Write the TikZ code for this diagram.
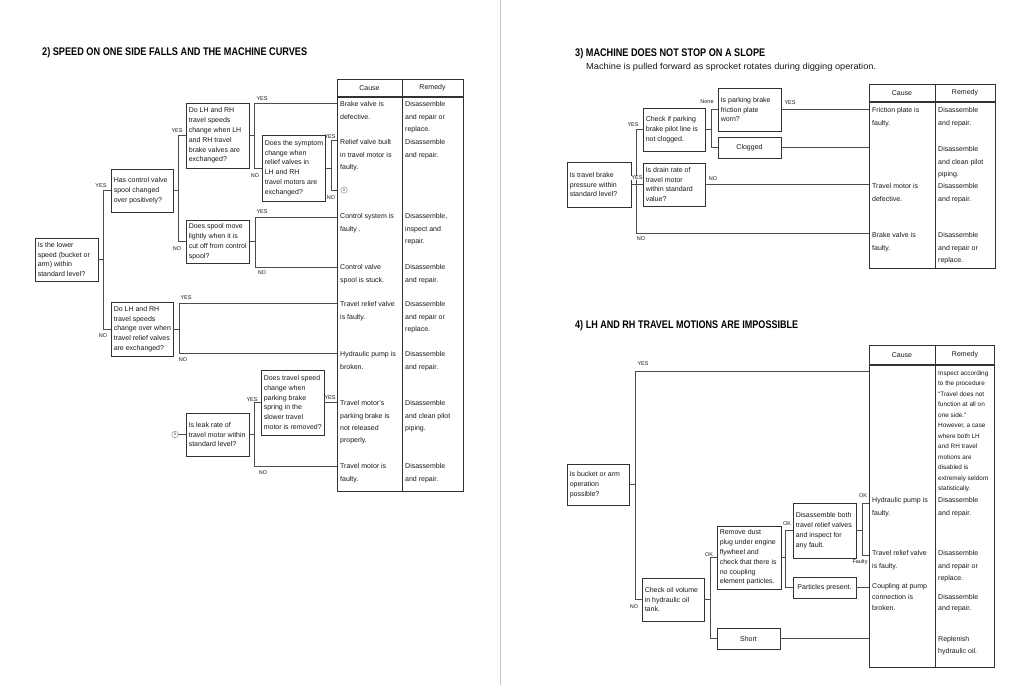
\documentclass[tikz,border=0pt]{standalone}
\usepackage{fontspec}
\setmainfont{Liberation Sans}
\usetikzlibrary{fit,calc}
\newcommand\qbox[6]{%
  \node[box, fit={(#2,#3) (#4,#5)}] (#1) {};
  \node[btxt] (#1t) at ([xshift=3pt]#1.west) {#6};}
\newcommand\cbox[6]{%
  \node[box, fit={(#2,#3) (#4,#5)}] (#1) {};
  \node[btxt, anchor=center] (#1t) at (#1.center) {#6};}
\newcommand\tcell[4]{\node[cell] (#1) at (#2,#3-2.6) {#4};}
\begin{document}
\begin{tikzpicture}[x=1pt,y=-1pt,
  box/.style={draw=black!80, line width=0.85pt, inner sep=0pt},
  btxt/.style={anchor=west, align=left, inner sep=0pt, text=black!90, font=\fontsize{7}{9.8}\selectfont},
  cell/.style={anchor=north west, align=left, inner sep=0pt, text=black!90, font=\fontsize{7}{12.4}\selectfont},
  head/.style={inner sep=0pt, text=black!90, font=\fontsize{7}{9}\selectfont},
  lbl/.style={inner sep=0pt, text=black!90, font=\fontsize{5.5}{6}\selectfont},
  conn/.style={draw=black!70, line width=0.85pt},
  tbl/.style={draw=black!80, line width=0.85pt, inner sep=0pt},
  ttl/.style={anchor=west, inner sep=0pt, text=black},
  circ/.style={circle, draw=black!50, line width=0.4pt, inner sep=0pt, minimum size=6.5pt, text=black!55, font=\fontsize{5}{5}\selectfont},
]
\useasboundingbox[fill=white] (0,0) rectangle (1016,685);
\draw[black!22, line width=0.6pt] (500,0) -- (500,685);

% ---------- titles ----------
\node[ttl] (title2) at (42,53) {\resizebox{265pt}{8pt}{\bfseries 2) SPEED ON ONE SIDE FALLS AND THE MACHINE CURVES}};
\node[ttl] (title3) at (575,54) {\resizebox{190pt}{8pt}{\bfseries 3) MACHINE DOES NOT STOP ON A SLOPE}};
\node[ttl, text=black!90] (sub3) at (586,67.5) {\resizebox{290pt}{6.3pt}{Machine is pulled forward as sprocket rotates during digging operation.}};
\node[ttl] (title4) at (575,326) {\resizebox{223pt}{8pt}{\bfseries 4) LH AND RH TRAVEL MOTIONS ARE IMPOSSIBLE}};

% ---------- table 2 ----------
\node[tbl, fit={(337,79) (463,491)}] (T2) {};
\draw[tbl, line width=1.4pt] (337,97) -- (463,97);
\draw[tbl] (402,79) -- (402,491);
\node[head] (h2c) at (369.5,88) {Cause};
\node[head] (h2r) at (432.5,88) {Remedy};
\tcell{c2a}{340}{104}{Brake valve is\\defective.}
\tcell{c2b}{340}{142}{Relief valve built\\in travel motor is\\faulty.}
\node[circ] (c2c) at (344,190) {a};
\tcell{c2d}{340}{216}{Control system is\\faulty .}
\tcell{c2e}{340}{267}{Control valve\\spool is stuck.}
\tcell{c2f}{340}{304}{Travel relief valve\\is faulty.}
\tcell{c2g}{340}{354}{Hydraulic pump is\\broken.}
\tcell{c2h}{340}{403}{Travel motor's\\parking brake is\\not released\\properly.}
\tcell{c2i}{340}{466}{Travel motor is\\faulty.}
\tcell{r2a}{405}{104}{Disassemble\\and repair or\\replace.}
\tcell{r2b}{405}{142}{Disassemble\\and repair.}
\tcell{r2d}{405}{216}{Disassemble,\\inspect and\\repair.}
\tcell{r2e}{405}{267}{Disassemble\\and repair.}
\tcell{r2f}{405}{304}{Disassemble\\and repair or\\replace.}
\tcell{r2g}{405}{354}{Disassemble\\and repair.}
\tcell{r2h}{405}{403}{Disassemble\\and clean pilot\\piping.}
\tcell{r2i}{405}{466}{Disassemble\\and repair.}

% ---------- boxes 2 ----------
\qbox{A}{35}{238}{98}{281}{Is the lower\\speed (bucket or\\arm) within\\standard level?}
\qbox{B}{111}{169}{173}{212}{Has control valve\\spool changed\\over positively?}
\qbox{C}{186}{103}{249}{168}{Do LH and RH\\travel speeds\\change when LH\\and RH travel\\brake valves are\\exchanged?}
\qbox{D}{262}{135}{325}{201}{Does the symptom\\change when\\relief valves in\\LH and RH\\travel motors are\\exchanged?}
\qbox{E}{186}{220}{249}{263}{Does spool move\\lightly when it is\\cut off from control\\spool?}
\qbox{F}{111}{302}{173}{356}{Do LH and RH\\travel speeds\\change over when\\travel relief valves\\are exchanged?}
\qbox{G}{186}{413}{249}{456}{Is leak rate of\\travel motor within\\standard level?}
\qbox{H}{261}{370}{324}{435}{Does travel speed\\change when\\parking brake\\spring in the\\slower travel\\motor is removed?}
\node[circ] (aref) at (175,434.5) {a};

\coordinate (t2a) at (337,103);
\coordinate (t2b) at (337,140);
\coordinate (t2c) at (337,190);
\coordinate (t2d) at (337,217);
\coordinate (t2e) at (337,267);
\coordinate (t2f) at (337,303);
\coordinate (t2g) at (337,353);
\coordinate (t2i) at (337,466);

\draw[conn] (A.east) -- ++(6,0);
\draw[conn] (B.west) -- ++(-7,0) |- (F.west);
\draw[conn] (B.east) -- ++(6,0);
\draw[conn] (C.west) -- ++(-7,0) |- (E.west);
\draw[conn] (C.east) -- ++(6,0);
\draw[conn] (D.west) -- ++(-7,0) |- (t2a);
\draw[conn] (D.east) -- ++(6,0);
\draw[conn] (t2b) -| ([xshift=6pt]D.east) |- (t2c);
\draw[conn] (E.east) -- ++(6,0);
\draw[conn] (t2d) -| ([xshift=6pt]E.east) |- (t2e);
\draw[conn] (F.east) -- ++(6,0);
\draw[conn] (t2f) -| ([xshift=6pt]F.east) |- (t2g);
\draw[conn] (G.east) -- ++(6,0);
\draw[conn] (H.west) -- ++(-6,0) |- (t2i);
\draw[conn] (H.east) -- (H.east -| T2.west);
\draw[conn] (aref) -- (G.west);

\node[lbl] (l1) at (101,186) {YES};
\node[lbl] (l2) at (103,336) {NO};
\node[lbl] (l3) at (177,131) {YES};
\node[lbl] (l4) at (177,249) {NO};
\node[lbl] (l5) at (262,99) {YES};
\node[lbl] (l6) at (255,176) {NO};
\node[lbl] (l7) at (330,137) {YES};
\node[lbl] (l8) at (331,198) {NO};
\node[lbl] (l9) at (262,212) {YES};
\node[lbl] (l10) at (262,273) {NO};
\node[lbl] (l11) at (186,298) {YES};
\node[lbl] (l12) at (183,360) {NO};
\node[lbl] (l13) at (252,400) {YES};
\node[lbl] (l14) at (263,473) {NO};
\node[lbl] (l15) at (330,398) {YES};

% ---------- table 3 ----------
\node[tbl, fit={(869,84) (995,268)}] (T3) {};
\draw[tbl, line width=1.4pt] (869,102) -- (995,102);
\draw[tbl] (935,84) -- (935,268);
\node[head] (h3c) at (902,93) {Cause};
\node[head] (h3r) at (965,93) {Remedy};
\tcell{c3a}{872}{110}{Friction plate is\\faulty.}
\tcell{c3b}{872}{186}{Travel motor is\\defective.}
\tcell{c3c}{872}{235}{Brake valve is\\faulty.}
\tcell{r3a}{938}{110}{Disassemble\\and repair.}
\tcell{r3b}{938}{149}{Disassemble\\and clean pilot\\piping.}
\tcell{r3c}{938}{186}{Disassemble\\and repair.}
\tcell{r3d}{938}{235}{Disassemble\\and repair or\\replace.}

% ---------- boxes 3 ----------
\qbox{P}{567}{162}{631}{207}{Is travel brake\\pressure within\\standard level?}
\qbox{Q}{643}{108}{705}{151}{Check if parking\\brake pilot line is\\not clogged.}
\qbox{R}{643}{163}{705}{206}{Is drain rate of\\travel motor\\within standard\\value?}
\qbox{S}{718}{88}{781}{131}{Is parking brake\\friction plate\\worn?}
\cbox{Tc}{718}{137}{781}{158}{Clogged}
\coordinate (t3d) at (869,233);

\draw[conn] (P.east) -- (P.east -| R.west);
\draw[conn] (Q.west) -- ++(-6,0) |- (t3d);
\draw[conn] (Q.east) -- ++(7,0);
\draw[conn] (S.west) -- ++(-6,0) |- (Tc.west);
\draw[conn] (S.east) -- (S.east -| T3.west);
\draw[conn] (Tc.east) -- (Tc.east -| T3.west);
\draw[conn] (R.east) -- (R.east -| T3.west);

\node[lbl] (m1) at (633,125) {YES};
\node[lbl, fill=white, inner sep=0.4pt] (m2) at (637,178) {YES};
\node[lbl] (m3) at (707,102) {None};
\node[lbl] (m4) at (790,103) {YES};
\node[lbl] (m5) at (713,179) {NO};
\node[lbl] (m6) at (641,239) {NO};

% ---------- table 4 ----------
\node[tbl, fit={(869,345) (994,667)}] (T4) {};
\draw[tbl, line width=1.4pt] (869,365) -- (994,365);
\draw[tbl] (935,345) -- (935,667);
\node[head] (h4c) at (902,355) {Cause};
\node[head] (h4r) at (965,355) {Remedy};
\node[cell, font=\fontsize{6.4}{10.5}\selectfont] (r4a) at (938,373-2.4) {Inspect according\\to the procedure\\``Travel does not\\function at all on\\one side.''\\However, a case\\where both LH\\and RH travel\\motions are\\disabled is\\extremely seldom\\statistically.};
\tcell{c4a}{872}{500}{Hydraulic pump is\\faulty.}
\tcell{r4b}{938}{500}{Disassemble\\and repair.}
\tcell{c4b}{872}{553}{Travel relief valve\\is faulty.}
\tcell{r4c}{938}{553}{Disassemble\\and repair or\\replace.}
\node[cell, font=\fontsize{7}{11}\selectfont] (c4c) at (872,586-2.6) {Coupling at pump\\connection is\\broken.};
\node[cell, font=\fontsize{7}{11}\selectfont] (r4d) at (938,597-2.6) {Disassemble\\and repair.};
\node[cell, font=\fontsize{7}{12}\selectfont] (r4e) at (938,639-2.6) {Replenish\\hydraulic oil.};

% ---------- boxes 4 ----------
\qbox{U}{567}{464}{629}{505}{Is bucket or arm\\operation\\possible?}
\qbox{V}{642}{578}{704}{621}{Check oil volume\\in hydraulic oil\\tank.}
\qbox{W}{717}{526}{781}{589}{Remove dust\\plug under engine\\flywheel and\\check that there is\\no coupling\\element particles.}
\cbox{X}{717}{628}{780}{649}{Short}
\qbox{Y}{793}{503}{856}{558}{Disassemble both\\travel relief valves\\and inspect for\\any fault.}
\cbox{Z}{793}{577}{856}{598}{Particles present.}
\coordinate (t4a) at (869,371);
\coordinate (t4b) at (869,503);
\coordinate (t4c) at (869,555);

\draw[conn] (U.east) -- ++(7,0);
\draw[conn] (t4a) -| ([xshift=-6pt]V.west) -- (V.west);
\draw[conn] (V.east) -- ++(7,0);
\draw[conn] (W.west) -- ++(-6,0) |- (X.west);
\draw[conn] (X.east) -- (X.east -| T4.west);
\draw[conn] (W.east) -- ++(5,0);
\draw[conn] (Y.west) -- ++(-7,0) |- (Z.west);
\draw[conn] (Z.east) -- (Z.east -| T4.west);
\draw[conn] (Y.east) -- ++(6,0);
\draw[conn] (t4b) -| ([xshift=6pt]Y.east) |- (t4c);

\node[lbl] (n1) at (643,364) {YES};
\node[lbl] (n2) at (634,607) {NO};
\node[lbl] (n3) at (709,555) {OK};
\node[lbl] (n4) at (787,524) {OK};
\node[lbl] (n5) at (863,496) {OK};
\node[lbl] (n6) at (860,562) {Faulty};
\end{tikzpicture}
\end{document}
